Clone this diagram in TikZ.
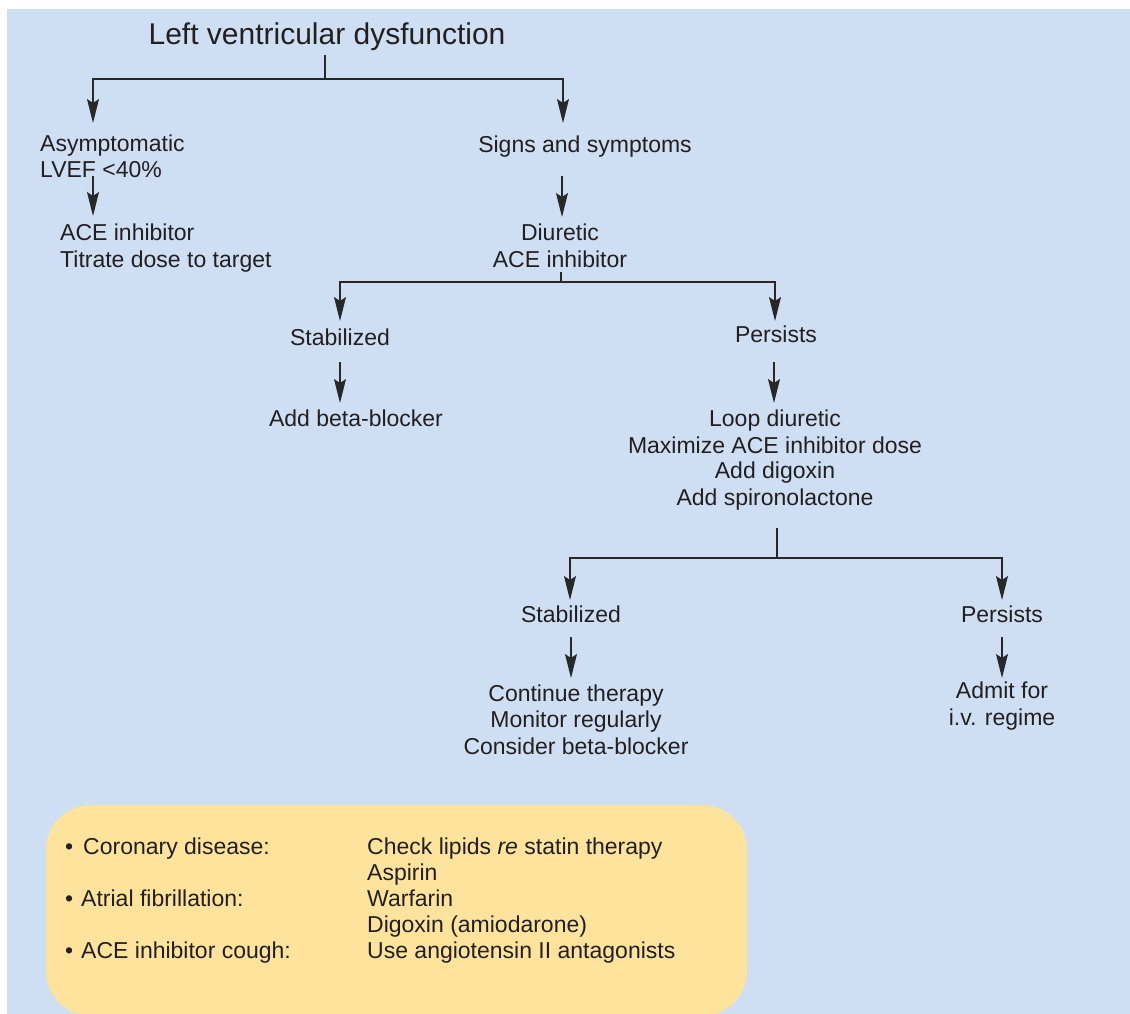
\documentclass[tikz,border=0pt]{standalone}
\usepackage{fontspec}
\setmainfont{Liberation Sans}
\usetikzlibrary{arrows.meta}
\definecolor{bgblue}{RGB}{207,223,243}
\definecolor{boxyellow}{RGB}{253,227,156}
\definecolor{ink}{RGB}{35,31,32}
\definecolor{linec}{RGB}{40,40,40}
\begin{document}
\begin{tikzpicture}[x=1pt,y=-1pt,
  txt/.style={inner sep=0pt, anchor=base, text=ink, font=\fontsize{23}{27}\selectfont},
  txtl/.style={txt, anchor=base west},
  ttl/.style={txt, font=\fontsize{30}{34}\selectfont},
  conn/.style={draw=linec, line width=1.4pt},
  arr/.style={conn, -{Stealth[length=24pt,width=12pt,inset=4pt]}}]
\useasboundingbox (0,0) rectangle (1130,1014);
\fill[white] (0,0) rectangle (1130,1014);
\fill[bgblue] (7,9) rectangle (1130,1014);
\begin{scope}
\clip (0,0) rectangle (1130,1014);
\fill[boxyellow, rounded corners=45pt] (46,805) rectangle (747,1016);
\end{scope}

% texts
\node[ttl] (title) at (327,45) {Left ventricular dysfunction};
\node[txtl] (asym1) at (40,152) {Asymptomatic};
\node[txtl] (asym2) at (40,178) {LVEF <40\%};
\node[txtl] (ace1) at (60,240) {ACE inhibitor};
\node[txtl] (ace2) at (60,267) {Titrate dose to target};
\node[txt] (signs) at (585,153) {Signs and symptoms};
\node[txt] (diu1) at (560,240) {Diuretic};
\node[txt] (diu2) at (560,267) {ACE inhibitor};
\node[txt] (stab1) at (340,345) {Stabilized};
\node[txt] (beta) at (356,426) {Add beta-blocker};
\node[txt] (pers1) at (776,342) {Persists};
\node[txt] (loop1) at (775,426) {Loop diuretic};
\node[txt] (loop2) at (775,453) {Maximize ACE inhibitor dose};
\node[txt] (loop3) at (775,478) {Add digoxin};
\node[txt] (loop4) at (775,505) {Add spironolactone};
\node[txt] (stab2) at (571,622) {Stabilized};
\node[txt] (pers2) at (1002,622) {Persists};
\node[txt] (cont1) at (576,701) {Continue therapy};
\node[txt] (cont2) at (576,727) {Monitor regularly};
\node[txt] (cont3) at (576,754) {Consider beta-blocker};
\node[txt] (adm1) at (1002,698) {Admit for};
\node[txt] (adm2) at (1002,725) {i.v. regime};

% note box
\node[txtl] (n1) at (65,854) {\textbullet\hspace{10pt}Coronary disease:};
\node[txtl] (n2) at (65,906) {\textbullet\hspace{8pt}Atrial fibrillation:};
\node[txtl] (n3) at (65,958) {\textbullet\hspace{8pt}ACE inhibitor cough:};
\node[txtl] (m1) at (367,854) {Check lipids \textit{re} statin therapy};
\node[txtl] (m2) at (367,880) {Aspirin};
\node[txtl] (m3) at (367,906) {Warfarin};
\node[txtl] (m4) at (367,932) {Digoxin (amiodarone)};
\node[txtl] (m5) at (367,958) {Use angiotensin II antagonists};

% connector points
\coordinate (t0) at (325,55);
\coordinate (t1) at (325,79);
\coordinate (tl) at (93,79);
\coordinate (tr) at (563,79);
\coordinate (asymTop) at (93,123);
\coordinate (signsTop) at (563,123);
\coordinate (a1) at (93,176);
\coordinate (a2) at (93,216);
\coordinate (s1) at (562,176);
\coordinate (s2) at (562,217);
\coordinate (d0) at (561,272);
\coordinate (d1) at (561,282);
\coordinate (dl) at (340,282);
\coordinate (dr) at (775,282);
\coordinate (stab1Top) at (340,321);
\coordinate (pers1Top) at (775,321);
\coordinate (b1) at (340,362);
\coordinate (b2) at (340,403);
\coordinate (p1) at (774,362);
\coordinate (p2) at (774,403);
\coordinate (l0) at (777,528);
\coordinate (l1) at (777,558);
\coordinate (ll) at (570,558);
\coordinate (lr) at (1002,558);
\coordinate (stab2Top) at (570,600);
\coordinate (pers2Top) at (1002,600);
\coordinate (c1) at (571,637);
\coordinate (c2) at (571,678);
\coordinate (e1) at (1002,637);
\coordinate (e2) at (1002,678);

% connectors
\draw[conn] (t0) -- (t1);
\draw[arr] (t1) -- (tl) -- (asymTop);
\draw[arr] (t1) -- (tr) -- (signsTop);
\draw[arr] (a1) -- (a2);
\draw[arr] (s1) -- (s2);
\draw[conn] (d0) -- (d1);
\draw[arr] (d1) -- (dl) -- (stab1Top);
\draw[arr] (d1) -- (dr) -- (pers1Top);
\draw[arr] (b1) -- (b2);
\draw[arr] (p1) -- (p2);
\draw[conn] (l0) -- (l1);
\draw[arr] (l1) -- (ll) -- (stab2Top);
\draw[arr] (l1) -- (lr) -- (pers2Top);
\draw[arr] (c1) -- (c2);
\draw[arr] (e1) -- (e2);
\end{tikzpicture}
\end{document}
